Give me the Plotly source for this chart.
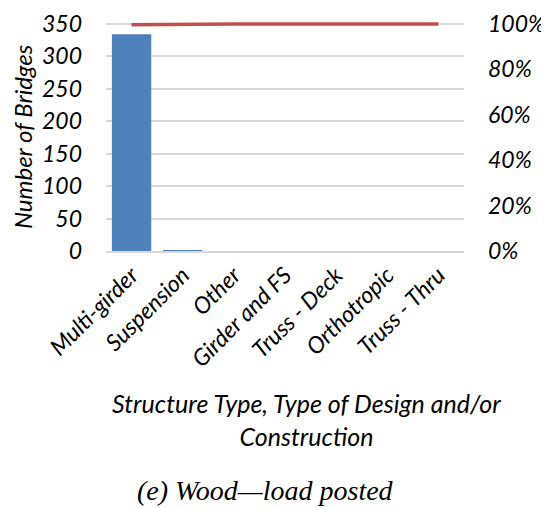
import plotly.graph_objects as go

categories = ["Multi-girder", "Suspension", "Other", "Girder and FS", "Truss - Deck", "Orthotropic", "Truss - Thru"]
counts = [334, 1, 0, 0, 0, 0, 0]
cum_pct = [99.7, 100, 100, 100, 100, 100, 100]
left_ticks = [0, 50, 100, 150, 200, 250, 300, 350]
right_ticks = [0, 20, 40, 60, 80, 100]
right_labels = [f"{v}%" for v in right_ticks]

FONT = "Lato"
OFF = 8  # browser body margin
W, H = 549 - OFF, 508 - OFF
L, T = 106 - OFF, 22 - OFF
R = 549 - 464
B = 508 - 251
plot_h = H - T - B
plot_w = W - L - R

def px_to_paper_x(px):
    return (px - OFF - L) / plot_w

def px_to_paper_y(py):
    return (H - B - (py - OFF)) / plot_h

fig = go.Figure()
fig.add_trace(go.Bar(x=categories, y=counts, marker=dict(color="#4F81BD", line=dict(width=0)),
                     yaxis="y", width=0.77))
fig.add_trace(go.Scatter(x=categories, y=cum_pct, mode="lines", line=dict(color="#C0504D", width=3.5),
                         yaxis="y2", cliponaxis=False))

tickfont = dict(family=FONT, size=23, color="#000000", style="italic")
ymax = 353
fig.update_layout(
    width=W, height=H,
    margin=dict(l=L, r=R, t=T, b=B),
    paper_bgcolor="white", plot_bgcolor="white",
    showlegend=False,
    xaxis=dict(tickangle=-45, tickfont=dict(family=FONT, size=23, color="#000", style="italic"),
               showline=True, linecolor="#d9d9d9", linewidth=1.5, ticks="", showgrid=False,
               automargin=False),
    yaxis=dict(range=[0, ymax], tickmode="array", tickvals=left_ticks,
               ticktext=[str(v) for v in left_ticks], tickfont=tickfont,
               showgrid=True, gridcolor="#d9d9d9", gridwidth=1.5, zeroline=False,
               ticklabelstandoff=23, automargin=False, ticklabeloverflow="allow"),
    yaxis2=dict(range=[0, 100 * ymax / 350], tickmode="array", tickvals=right_ticks,
                ticktext=right_labels, overlaying="y", side="right",
                tickfont=tickfont, showgrid=False, zeroline=False, ticklabelstandoff=23,
                automargin=False, ticklabeloverflow="allow"),
    annotations=[
        dict(text="Number of Bridges", x=px_to_paper_x(22), y=px_to_paper_y(137),
             xref="paper", yref="paper", showarrow=False, textangle=-90,
             font=dict(family=FONT, size=24, color="#000", style="italic"),
             xanchor="center", yanchor="middle"),
        dict(text="Structure Type, Type of Design and/or<br>Construction",
             x=px_to_paper_x(306), y=px_to_paper_y(419), showarrow=False,
             xref="paper", yref="paper", xanchor="center", yanchor="middle",
             font=dict(family=FONT, size=25, color="#000", style="italic"), align="center"),
        dict(text="(e) Wood\u2014load posted", x=px_to_paper_x(265), y=px_to_paper_y(490),
             showarrow=False, xref="paper", yref="paper", xanchor="center", yanchor="middle",
             font=dict(family="Liberation Serif", size=28, color="#000", style="italic")),
    ],
)

fig.write_html("out.html")
